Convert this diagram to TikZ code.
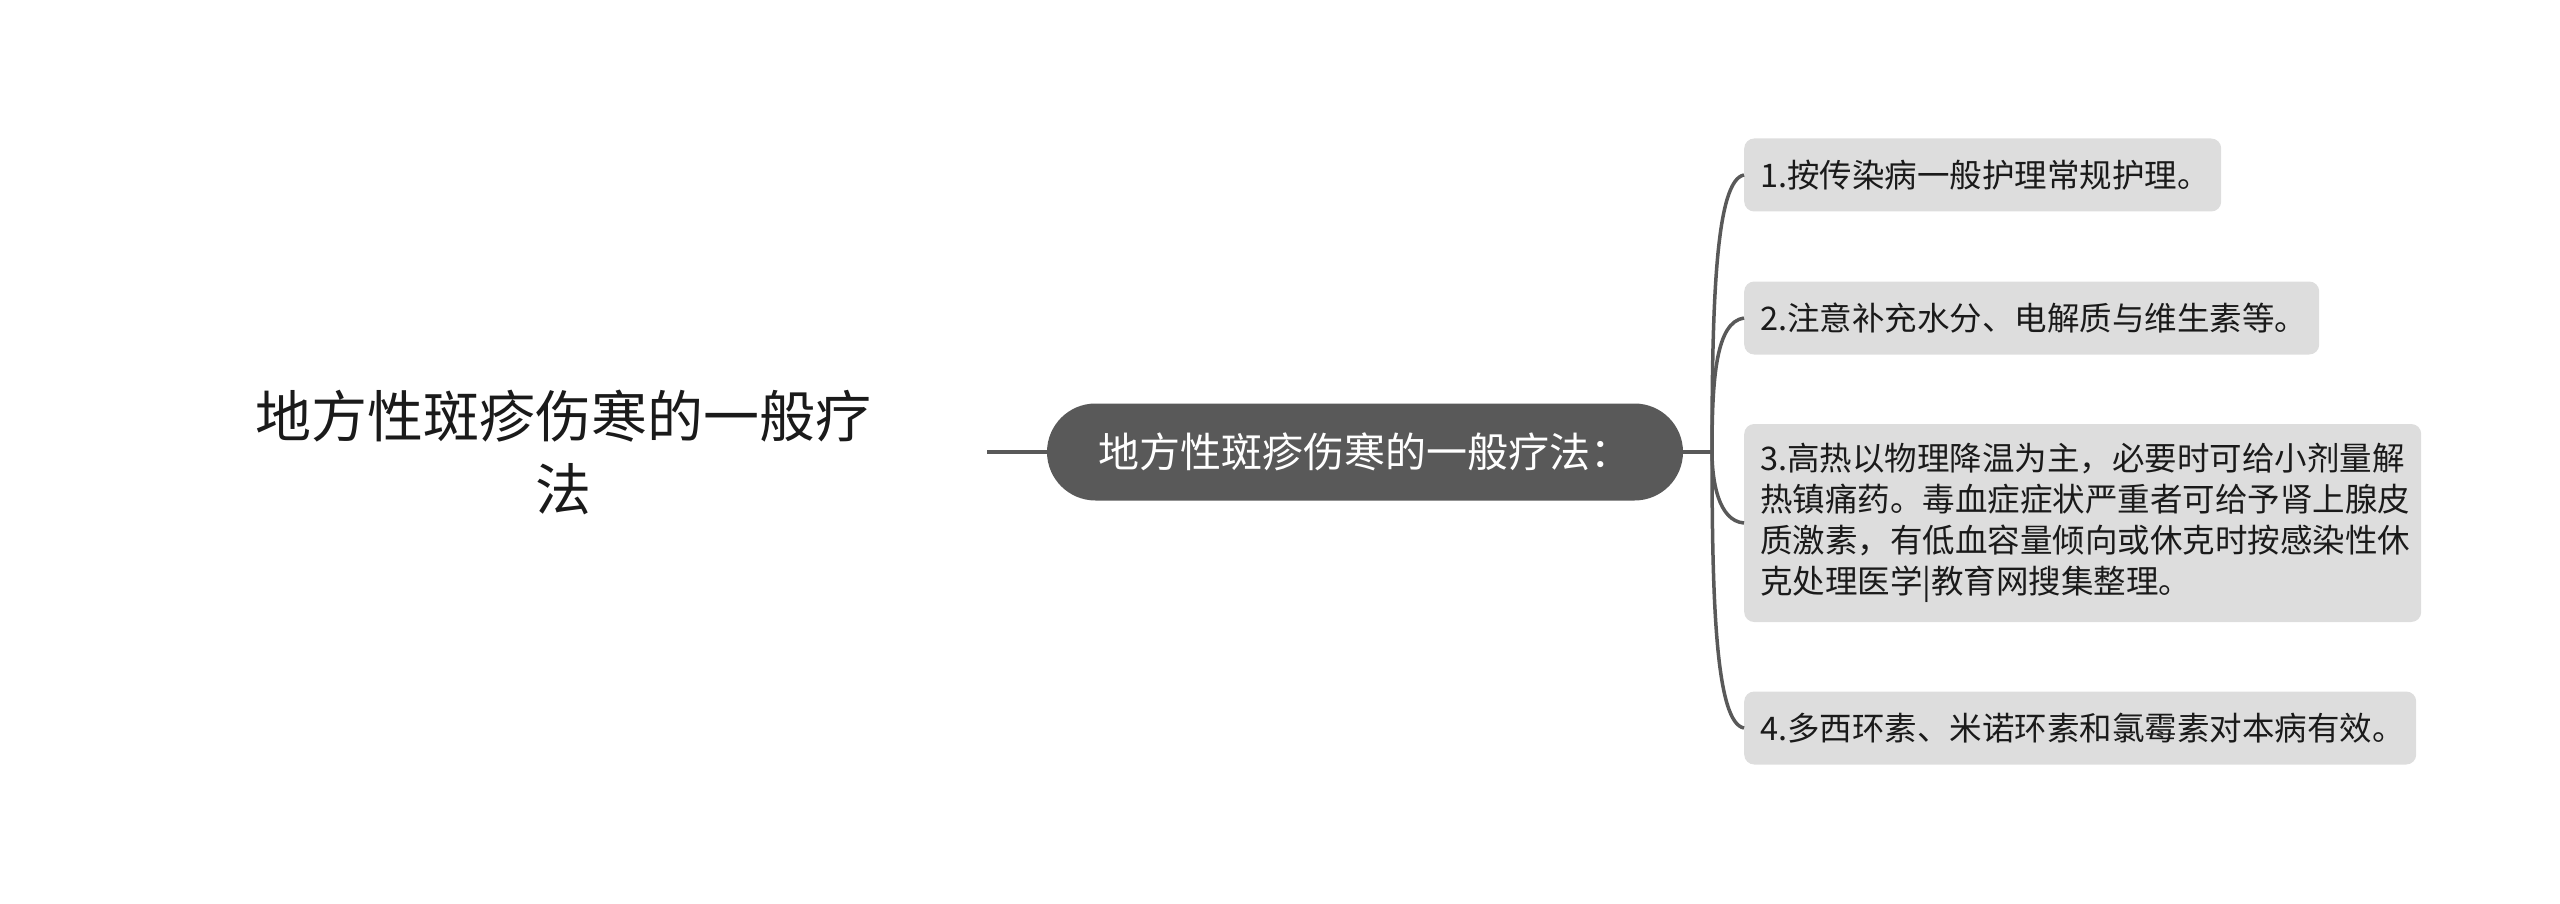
\documentclass[tikz,border=0pt]{standalone}
\usepackage{fontspec}
\newfontfamily\cjk{Noto Sans CJK SC}
\definecolor{dark}{HTML}{595959}
\definecolor{light}{HTML}{DDDDDD}
\definecolor{ink}{HTML}{1A1A1A}
\tikzset{
  conn/.style={draw=dark, line width=3.5pt},
  rootnode/.style={font=\cjk\fontsize{56}{73}\selectfont, text=ink, align=center, inner sep=0pt},
  mainnode/.style={fill=dark, text=white, rounded corners=48.5pt, minimum width=636pt, minimum height=97pt, inner sep=0pt, font=\cjk\fontsize{41}{50}\selectfont},
  childbox/.style={fill=light, text=ink, rounded corners=10pt, anchor=west, inner xsep=16pt, inner ysep=0pt, align=left, font=\cjk\fontsize{32.5}{41}\selectfont}
}
\begin{document}
\begin{tikzpicture}[x=1pt,y=-1pt]
\useasboundingbox (0,0) rectangle (2560,904);
\node[rootnode] (root) at (563,452) {地方性斑疹伤寒的一般疗\\法};
\node[mainnode] (main) at (1365,452) {地方性斑疹伤寒的一般疗法：};
\coordinate (J) at (1712,452);
\node[childbox, text width=445pt, minimum height=73pt] (c1) at (1744,175) {1.按传染病一般护理常规护理。};
\node[childbox, text width=543pt, minimum height=73pt] (c2) at (1744,318) {2.注意补充水分、电解质与维生素等。};
\node[childbox, text width=645pt, minimum height=198pt] (c3) at (1744,523) {3.高热以物理降温为主，必要时可给小剂量解\\热镇痛药。毒血症症状严重者可给予肾上腺皮\\质激素，有低血容量倾向或休克时按感染性休\\克处理医学|教育网搜集整理。};
\node[childbox, text width=640pt, minimum height=73pt] (c4) at (1744,728) {4.多西环素、米诺环素和氯霉素对本病有效。};
\coordinate (rs) at (987,452);
\draw[conn] (rs) -- (main.west);
\draw[conn] (main.east) -- (J);
\draw[conn] (J) .. controls (1712,300) and (1716,180) .. (c1.west);
\draw[conn] (J) .. controls (1712,378) and (1716,322) .. (c2.west);
\draw[conn] (J) .. controls (1712,480) and (1718,521) .. (c3.west);
\draw[conn] (J) .. controls (1712,604) and (1716,723) .. (c4.west);
\end{tikzpicture}
\end{document}
